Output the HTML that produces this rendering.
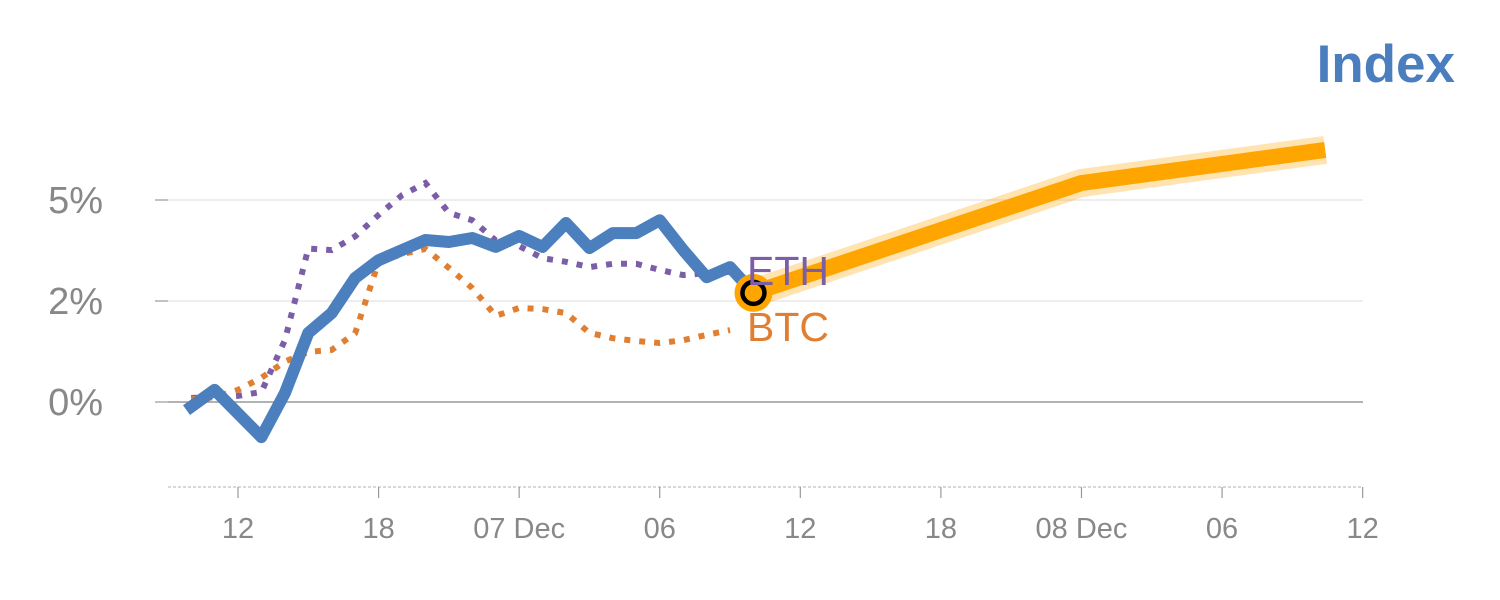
<!DOCTYPE html>
<html><head><meta charset="utf-8"><style>
html,body{margin:0;padding:0;background:#fff;width:1500px;height:600px;overflow:hidden}
svg{display:block;font-family:"Liberation Sans",sans-serif}
</style></head><body>
<svg id="chart" width="1500" height="600">
<text x="1455" y="82" text-anchor="end" font-size="53" font-weight="bold" fill="#4a7ebf">Index</text>
<g id="grid"></g><g id="xaxis"></g><g id="series"></g>
</svg>
<script>
const indexHours=[9.8,11,13,14,15,16,17,18,20,21,22,23,24,25,26,27,28,29,30,31,32,33,34];
const indexValues=[-0.2,0.3,-0.87,0.22,1.71,2.2,3.07,3.51,4.01,3.96,4.06,3.84,4.11,3.84,4.43,3.81,4.18,4.18,4.5,3.76,3.09,3.34,2.7];
const forecastHours=[34,48,58.4];
const forecastValues=[2.7,5.42,6.24];
const coinHours=[10,11,12,13,14,15,16,17,18,19,20,21,22,23,24,25,26,27,28,29,30,31,32,33];
const ethValues=[0.1,0.12,0.15,0.25,1.53,3.8,3.76,4.1,4.63,5.12,5.42,4.68,4.5,4.0,3.86,3.56,3.47,3.34,3.42,3.42,3.27,3.14,3.19,3.22];
const btcValues=[0.07,0.12,0.3,0.6,1.0,1.24,1.29,1.7,3.47,3.66,3.79,3.32,2.82,2.13,2.33,2.3,2.2,1.71,1.58,1.51,1.46,1.53,1.66,1.78];
const yTicks=[0,2.5,5];
const yTickLabels=["0%","2%","5%"];
const xTicks=[12,18,24,30,36,42,48,54,60];
const xTickLabels=["12","18","07 Dec","06","12","18","08 Dec","06","12"];

const NS="http://www.w3.org/2000/svg";
const xs=h=>238+(h-12)*23.43;
const ys=v=>402-v*40.4;
function mk(tag,attrs,parent){const e=document.createElementNS(NS,tag);for(const k in attrs)e.setAttribute(k,attrs[k]);parent.appendChild(e);return e;}
const grid=document.getElementById('grid'),xa=document.getElementById('xaxis'),se=document.getElementById('series');

yTicks.forEach((t,i)=>{
  const y=ys(t);
  const l=mk('line',{x1:168,x2:1363,y1:y,y2:y,stroke:t===0?'#999':'#e3e3e3','stroke-width':t===0?1.5:1.2},grid);
  
  
  const tk=mk('line',{x1:155,x2:168,y1:y,y2:y,stroke:'#999','stroke-width':1.2},grid);
  
  
  const tx=mk('text',{x:103,y:y+13,'text-anchor':'end','font-size':38,fill:'#888'},grid);
  tx.textContent=yTickLabels[i];
  
  
});
const ax=mk('line',{x1:168,x2:1363,y1:487,y2:487,stroke:'#ccc','stroke-width':1.5,'stroke-dasharray':'3 2'},xa);


xTicks.forEach((t,i)=>{
  const x=xs(t);
  const tk=mk('line',{x1:x,x2:x,y1:487,y2:498,stroke:'#999','stroke-width':1.2},xa);
  
  
  const tx=mk('text',{x:x,y:538,'text-anchor':'middle','font-size':29,fill:'#888'},xa);
  tx.textContent=xTickLabels[i];
  
  
});
function pts(hs,vs){return hs.map((h,i)=>xs(h).toFixed(1)+','+ys(vs[i]).toFixed(1)).join(' ');}
const fh=mk('polyline',{points:pts(forecastHours,forecastValues),fill:'none',stroke:'#ffa500','stroke-opacity':0.3,'stroke-width':28,'stroke-linejoin':'round'},se);


const fl=mk('polyline',{points:pts(forecastHours,forecastValues),fill:'none',stroke:'#ffa500','stroke-width':16,'stroke-linejoin':'round'},se);


const eth=mk('polyline',{points:pts(coinHours,ethValues),fill:'none',stroke:'#7b5ea7','stroke-width':6,'stroke-dasharray':'6 9'},se);


const btc=mk('polyline',{points:pts(coinHours,btcValues),fill:'none',stroke:'#e07f32','stroke-width':6,'stroke-dasharray':'6 9'},se);


const idx=mk('polyline',{points:pts(indexHours,indexValues),fill:'none',stroke:'#4c7fbd','stroke-width':12,'stroke-linejoin':'round'},se);


const lh=indexHours[indexHours.length-1],lv=indexValues[indexValues.length-1];
const c1=mk('circle',{cx:xs(lh),cy:ys(lv),r:19,fill:'#ffa500'},se);


const c2=mk('circle',{cx:xs(lh),cy:ys(lv),r:11,fill:'#ffa500',stroke:'#000','stroke-width':4.5},se);


const et=mk('text',{x:747,y:285,'font-size':41,fill:'#7b5ea7'},se);
et.textContent='ETH';


const bt=mk('text',{x:747,y:341,'font-size':41,fill:'#e07f32'},se);
bt.textContent='BTC';


</script>
</body></html>
